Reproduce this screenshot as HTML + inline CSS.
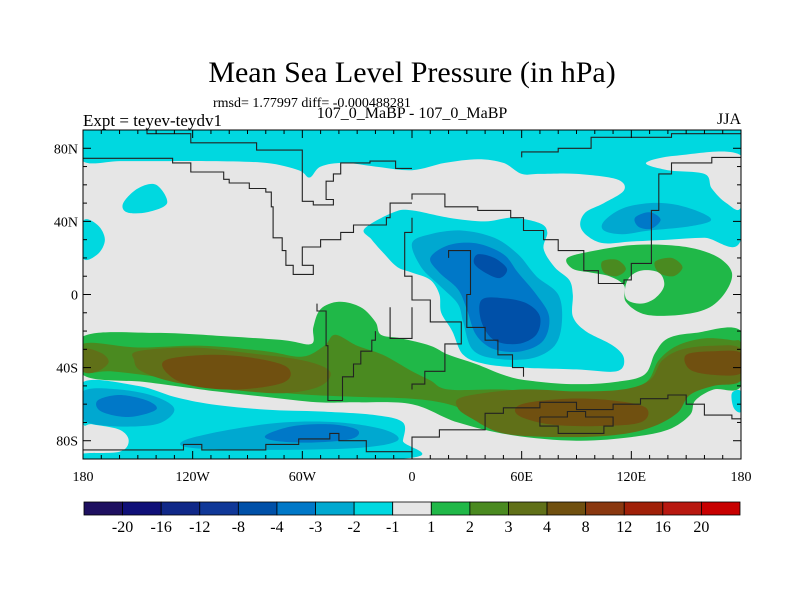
<!DOCTYPE html>
<html><head><meta charset="utf-8">
<style>
html,body{margin:0;padding:0;background:#fff;}
body{width:800px;height:600px;overflow:hidden;}
svg text{font-family:"Liberation Serif",serif;fill:#000;}
</style></head>
<body>
<svg id="chart" width="800" height="600" viewBox="0 0 800 600" xmlns="http://www.w3.org/2000/svg">
  <text x="412" y="82" font-size="30" text-anchor="middle">Mean Sea Level Pressure (in hPa)</text>
  <text x="213" y="107" font-size="14">rmsd= 1.77997 diff= -0.000488281</text>
  <text x="83" y="126" font-size="17">Expt = teyev-teydv1</text>
  <text x="412" y="118" font-size="16" text-anchor="middle">107_0_MaBP - 107_0_MaBP</text>
  <text x="741" y="124" font-size="16" text-anchor="end">JJA</text>
  <defs><clipPath id="mapclip"><rect x="83" y="130" width="658" height="329"/></clipPath></defs>
  <rect x="83" y="130" width="658" height="329" fill="#e6e6e6"/>
  <g id="fields" clip-path="url(#mapclip)"></g>
  <g id="coasts" clip-path="url(#mapclip)"></g>
  <rect x="83" y="130" width="658" height="329" fill="none" stroke="#000" stroke-width="1"/>
  <g id="axes"></g>
  <g id="colorbar"></g>
</svg>
<script>
// ---- data ----
const levelColors = ["#1e1060","#101078","#102888","#103898","#0050a8","#0078c8","#00a8d0","#00d8e0","#e6e6e6","#20b848","#4a8a20","#607018","#705010","#8a3810","#a02008","#b81810","#c80000"];
const levelLabels = ["-20","-16","-12","-8","-4","-3","-2","-1","1","2","3","4","8","12","16","20"];
const lonTicks = [-180,-120,-60,0,60,120,180];
const lonTickLabels = ["180","120W","60W","0","60E","120E","180"];
const latTicks = [80,40,0,-40,-80];
const latTickLabels = ["80N","40N","0","40S","80S"];

// contour regions: colour index per region, and region outlines [[lon,lat],...]
const regionLevels = [7,7,7,7,7,7,8,6,6,6,6,5,5,5,5,4,4,9,8,10,10,9,10,11,12,11,11,12,12];
const regionShapes = [
 [[-180,90],[180,90],[180,30],[160,31],[140,30],[120,29],[105,28],[96,32],[92,38],[95,45],[105,50],[116,57],[112,63],[90,66],[70,66],[60,66],[50,72],[36,74],[18,72],[0,68],[-20,70],[-37,72],[-50,70],[-56,64],[-62,68],[-80,72],[-110,73],[-140,73],[-160,73],[-180,73]],
 [[-26,36],[-10,45],[0,46],[20,42],[40,40],[55,42],[70,39],[74,34],[72,25],[78,15],[86,8],[88,0],[88,-12],[95,-20],[110,-28],[116,-35],[112,-42],[90,-41],[60,-40],[40,-38],[28,-33],[22,-20],[16,-10],[15,0],[10,8],[0,12],[-8,15],[-15,22],[-22,30]],
 [[-180,40],[-172,38],[-168,30],[-172,22],[-180,20]],
 [[-158,50],[-150,58],[-140,60],[-134,50],[-145,45],[-156,45]],
 [[-180,-48],[-150,-50],[-130,-56],[-110,-60],[-80,-63],[-50,-64],[-20,-66],[-5,-70],[-5,-80],[-8,-90],[-180,-90],[-180,-87],[-160,-86],[-155,-80],[-160,-74],[-175,-71],[-180,-70]],
 [[175,-54],[180,-53],[180,-64],[176,-62]],
 [[128,72],[145,76],[180,76],[180,48],[172,50],[164,58],[160,66],[140,68]],
 [[0,28],[10,33],[27,35],[45,31],[58,22],[68,10],[80,0],[82,-15],[78,-28],[65,-35],[45,-35],[33,-30],[28,-15],[25,-5],[15,5],[5,15]],
 [[105,40],[115,47],[130,50],[145,49],[160,44],[163,40],[150,37],[130,35],[115,33],[105,35]],
 [[-180,-53],[-160,-52],[-140,-56],[-130,-63],[-140,-71],[-165,-72],[-180,-68]],
 [[-125,-80],[-100,-74],[-70,-70],[-40,-70],[-15,-74],[-8,-80],[-30,-84],[-80,-85],[-120,-84]],
 [[10,20],[20,27],[35,28],[50,22],[58,12],[68,0],[75,-12],[72,-25],[60,-31],[45,-30],[35,-22],[30,-8],[25,3],[15,12]],
 [[122,42],[130,45],[136,41],[131,36],[124,37]],
 [[-172,-58],[-160,-55],[-145,-58],[-140,-63],[-155,-67],[-170,-64]],
 [[-80,-77],[-65,-72],[-45,-71],[-30,-74],[-33,-79],[-55,-81],[-75,-80]],
 [[36,22],[45,20],[52,14],[48,9],[40,12],[34,17]],
 [[38,-3],[50,-2],[63,-5],[70,-12],[68,-22],[58,-27],[45,-25],[38,-15]],
 [[85,20],[100,24],[120,27],[140,27],[155,25],[168,20],[175,12],[172,2],[163,-7],[148,-11],[128,-11],[117,-4],[116,5],[108,10],[98,12],[88,14]],
 [[117,-2],[118,8],[125,13],[135,12],[138,5],[133,-2],[125,-5]],
 [[104,18],[112,19],[117,14],[112,10],[105,12]],
 [[133,18],[142,20],[148,15],[143,10],[135,12]],
 [[-180,-23],[-140,-21],[-100,-23],[-70,-25],[-55,-27],[-54,-18],[-50,-8],[-40,-4],[-28,-7],[-20,-15],[-17,-22],[-6,-24],[10,-28],[20,-33],[35,-38],[50,-44],[63,-47],[87,-49],[110,-48],[127,-44],[133,-32],[140,-24],[155,-21],[180,-20],[180,-50],[165,-52],[155,-58],[152,-66],[140,-74],[120,-78],[90,-80],[55,-77],[25,-70],[0,-60],[-30,-59],[-52,-59],[-80,-56],[-107,-53],[-145,-48],[-180,-44]],
 [[-180,-27],[-150,-29],[-115,-28],[-80,-31],[-60,-34],[-48,-28],[-42,-22],[-30,-28],[-16,-33],[0,-42],[10,-47],[20,-52],[50,-52],[80,-54],[110,-53],[128,-48],[135,-36],[145,-28],[160,-24],[175,-25],[180,-27],[180,-45],[165,-48],[150,-55],[140,-68],[110,-75],[70,-73],[40,-67],[20,-60],[0,-57],[-30,-56],[-55,-55],[-80,-53],[-110,-50],[-140,-45],[-165,-42],[-180,-42]],
 [[-150,-31],[-120,-29],[-90,-32],[-60,-36],[-45,-42],[-50,-50],[-70,-54],[-100,-52],[-130,-48],[-148,-42],[-152,-36]],
 [[-135,-36],[-110,-33],[-85,-35],[-68,-40],[-70,-48],[-95,-52],[-120,-50],[-133,-44]],
 [[-180,-30],[-170,-32],[-166,-37],[-172,-42],[-180,-42]],
 [[28,-56],[60,-52],[90,-53],[115,-52],[130,-47],[137,-36],[148,-30],[165,-28],[180,-30],[180,-47],[165,-50],[152,-55],[145,-65],[130,-73],[110,-77],[80,-78],[50,-76],[33,-68],[25,-62]],
 [[60,-60],[85,-57],[110,-58],[128,-62],[125,-70],[100,-72],[75,-71],[58,-66]],
 [[150,-33],[165,-31],[180,-32],[180,-43],[165,-44],[152,-41]]
];

// coastlines (lon/lat polylines)
const coastLines = [
 [[-180,74.5],[-131,74.5],[-131,72],[-121,72],[-121,67],[-103,67],[-103,63],[-100,63],[-100,61],[-89,61],[-89,58],[-80,58],[-80,56],[-77,56],[-77,48],[-76,48],[-76,31],[-71,31],[-71,24],[-69,24],[-69,16],[-65,16],[-65,11],[-54,11],[-54,16],[-60,16],[-60,26],[-50,26],[-50,30],[-39,30],[-39,34],[-32,34],[-32,38],[-14,38],[-14,42],[-12,42],[-12,50],[0,50]],
 [[-145,90],[-145,88],[-121,88],[-121,83],[-85,83],[-85,79],[-60,79],[-60,72],[-60,51],[-54,51],[-54,49],[-43,49],[-43,52],[-47,52],[-47,62],[-43,62],[-43,66],[-39,66],[-39,72],[-23,72],[-23,73],[-9,73],[-9,69],[0,69]],
 [[0,52],[0,55],[18,55],[18,48],[36,48],[36,46],[54,46],[54,42],[61,42],[61,35],[72,35],[72,30],[80,30],[80,24],[94,24],[94,13],[102,13],[102,6],[116,6],[116,8],[120,8],[120,17],[131,17],[131,46],[135,46],[135,66],[142,66],[142,72],[164,72],[164,75],[180,75]],
 [[60,75],[60,78],[80,78],[80,80],[98,80],[98,86],[142,86],[142,88],[180,88]],
 [[0,42],[0,34],[-4,34],[-4,10],[0,10],[0,-3],[10,-3],[10,-15],[27,-15],[27,-27],[18,-27],[18,-42],[7,-42],[7,-49],[0,-49],[0,-52]],
 [[20,20],[20,24],[32,24],[32,0],[30,0],[30,-18],[40,-18],[40,-25],[47,-25],[47,-33],[55,-33],[55,-40],[61,-40],[61,-45]],
 [[-52,-5],[-52,-9],[-47,-9],[-47,-28],[-46,-28],[-46,-58],[-38,-58],[-38,-45],[-32,-45],[-32,-38],[-28,-38],[-28,-31],[-22,-31],[-22,-25],[-20,-25],[-20,-20]],
 [[-12,-7],[-12,-24],[0,-24],[0,-7]],
 [[-180,-85],[-125,-85],[-125,-82],[-115,-82],[-115,-85],[-80,-85],[-80,-82],[-62,-82],[-62,-79],[-45,-79],[-45,-76],[-40,-76],[-40,-80],[-25,-80],[-25,-86],[0,-86],[0,-78],[15,-78],[15,-74],[40,-74],[40,-65],[50,-65],[50,-62],[70,-62],[70,-59],[90,-59],[90,-63],[110,-63],[110,-60],[125,-60],[125,-57],[140,-57],[140,-55],[150,-55],[150,-60],[160,-60],[160,-66],[175,-66],[175,-68],[180,-68]],
 [[70,-67],[70,-72],[80,-72],[80,-76],[105,-76],[105,-72],[110,-72],[110,-67],[95,-67],[95,-64],[85,-64],[85,-67],[70,-67]]
];

// ---- axis functions ----
const X0=83, X1=741, Y0=130, Y1=459;
function xOf(lon){ return X0 + (lon+180)/360*(X1-X0); }
function yOf(lat){ return Y0 + (90-lat)/180*(Y1-Y0); }
const NS="http://www.w3.org/2000/svg";
function mk(tag, attrs, parent){ const e=document.createElementNS(NS,tag); for(const k in attrs) e.setAttribute(k,attrs[k]); parent.appendChild(e); return e; }

function smoothPath(pts){
  const p = pts.map(q=>[xOf(q[0]), yOf(q[1])]);
  const n=p.length; let d="M"+p[0][0].toFixed(1)+","+p[0][1].toFixed(1);
  for(let i=0;i<n;i++){
    const p0=p[(i-1+n)%n], p1=p[i], p2=p[(i+1)%n], p3=p[(i+2)%n];
    const c1=[p1[0]+(p2[0]-p0[0])/6, p1[1]+(p2[1]-p0[1])/6];
    const c2=[p2[0]-(p3[0]-p1[0])/6, p2[1]-(p3[1]-p1[1])/6];
    d+=" C"+c1[0].toFixed(1)+","+c1[1].toFixed(1)+" "+c2[0].toFixed(1)+","+c2[1].toFixed(1)+" "+p2[0].toFixed(1)+","+p2[1].toFixed(1);
  }
  return d+"Z";
}

const fields=document.getElementById('fields');
regionShapes.forEach((shape,i)=>{
  const el=mk('path',{d:smoothPath(shape), fill:levelColors[regionLevels[i]]},fields);
  
  
});

const coasts=document.getElementById('coasts');
coastLines.forEach((ln,i)=>{
  const el=mk('polyline',{points:ln.map(q=>xOf(q[0]).toFixed(1)+","+yOf(q[1]).toFixed(1)).join(" "), fill:"none", stroke:"#222", "stroke-width":"1.1"},coasts);
  
  
});

// ---- axes ----
const axes=document.getElementById('axes');
for(let lon=-180;lon<=180;lon+=10){
  const major = lon%60===0;
  const len = major?8:4;
  const x=xOf(lon);
  mk('line',{x1:x,y1:Y1,x2:x,y2:Y1-len,stroke:"#000","stroke-width":1},axes);
  mk('line',{x1:x,y1:Y0,x2:x,y2:Y0+len,stroke:"#000","stroke-width":1},axes);
}
for(let lat=-90;lat<=90;lat+=10){
  const major = lat%40===0;
  const len = major?8:4;
  const y=yOf(lat);
  mk('line',{x1:X0,y1:y,x2:X0+len,y2:y,stroke:"#000","stroke-width":1},axes);
  mk('line',{x1:X1,y1:y,x2:X1-len,y2:y,stroke:"#000","stroke-width":1},axes);
}
lonTicks.forEach((lon,i)=>{
  const t=mk('text',{x:xOf(lon),y:481,"font-size":14,"text-anchor":"middle"},axes);
  t.textContent=lonTickLabels[i];
  
  
});
latTicks.forEach((lat,i)=>{
  const t=mk('text',{x:78,y:yOf(lat)+5,"font-size":14,"text-anchor":"end"},axes);
  t.textContent=latTickLabels[i];
  
  
});

// ---- colorbar ----
const cb=document.getElementById('colorbar');
const CB0=84, CB1=740, CBY=502, CBH=13;
const bw=(CB1-CB0)/levelColors.length;
levelColors.forEach((c,i)=>{
  const r=mk('rect',{x:CB0+i*bw,y:CBY,width:bw,height:CBH,fill:c,stroke:"#000","stroke-width":0.8},cb);
  
  
});
levelLabels.forEach((l,i)=>{
  const t=mk('text',{x:CB0+(i+1)*bw,y:532,"font-size":16,"text-anchor":"middle"},cb);
  t.textContent=l;
  
  
});
</script>
</body></html>
